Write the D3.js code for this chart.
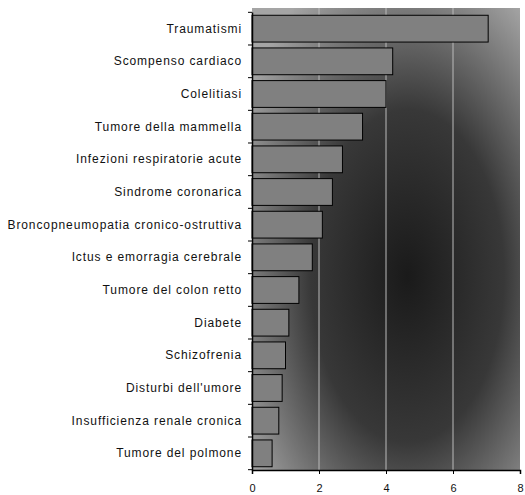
<!DOCTYPE html>
<html><head><meta charset="utf-8">
<script src="https://cdn.jsdelivr.net/npm/d3@7"></script>
<style>body{margin:0;background:#fff}</style>
</head><body>
<svg id="c" width="525" height="495"></svg>
<script>
const categories = ["Traumatismi","Scompenso cardiaco","Colelitiasi","Tumore della mammella","Infezioni respiratorie acute","Sindrome coronarica","Broncopneumopatia cronico-ostruttiva","Ictus e emorragia cerebrale","Tumore del colon retto","Diabete","Schizofrenia","Disturbi dell'umore","Insufficienza renale cronica","Tumore del polmone"];
const values = [7.05, 4.2, 4.0, 3.3, 2.7, 2.4, 2.1, 1.8, 1.4, 1.1, 1.0, 0.9, 0.8, 0.6];
const xTicks = [0, 2, 4, 6, 8];

const svg = d3.select("#c");
const m = {left: 252, top: 8, right: 5, bottom: 25};
const W = 525, H = 495;
const x = d3.scaleLinear().domain([0, 8]).range([m.left, W - m.right]);
const y = d3.scaleBand().domain(categories).range([m.top + 4, H - m.bottom]).paddingInner(0.18).paddingOuter(0.1);

const defs = svg.append("defs");
const g = defs.append("radialGradient").attr("id","bg").attr("cx","0.58").attr("cy","0.58").attr("r","0.72");
g.append("stop").attr("offset","0").attr("stop-color","#1a1a1a");
g.append("stop").attr("offset","0.5").attr("stop-color","#383838");
g.append("stop").attr("offset","1").attr("stop-color","#a5a5a5");

svg.append("rect").attr("x", x(0)).attr("y", m.top).attr("width", x(8) - x(0)).attr("height", H - m.bottom - m.top)
  .attr("fill", "url(#bg)");

svg.append("g").selectAll("line").data(xTicks.slice(1, -1)).join("line")
  .attr("x1", d => x(d)).attr("x2", d => x(d)).attr("y1", m.top).attr("y2", H - m.bottom)
  .attr("stroke", "#bbb").attr("stroke-width", 1);

svg.append("g").selectAll("rect").data(categories).join("rect")
  .attr("x", x(0)).attr("y", d => y(d)).attr("width", (d, i) => x(values[i]) - x(0)).attr("height", y.bandwidth())
  .attr("fill", "#808080").attr("stroke", "#000").attr("stroke-width", 1);

const yAxis = d3.axisLeft(y).tickSize(0).tickPadding(10);
svg.append("g").attr("transform", `translate(${x(0)},0)`).call(yAxis)
  .call(a => a.select(".domain").attr("stroke", "#000").attr("stroke-width", 1.5))
  .selectAll("text").attr("font-family", "Liberation Sans, Arial, sans-serif").attr("font-size", 12)
  .attr("letter-spacing", "0.9px").attr("fill", "#111");

// category boundary ticks
const step = y.step();
const bounds = categories.map(c => y(c) - (step - y.bandwidth()) / 2).concat([y(categories[categories.length - 1]) + y.bandwidth() + (step - y.bandwidth()) / 2]);
svg.append("g").selectAll("line").data(bounds).join("line")
  .attr("x1", x(0) - 4).attr("x2", x(0)).attr("y1", d => d).attr("y2", d => d)
  .attr("stroke", "#000").attr("stroke-width", 1);

const xAxis = d3.axisBottom(x).tickValues(xTicks).tickSize(4).tickPadding(10).tickFormat(d3.format("d"));
svg.append("g").attr("transform", `translate(0,${H - m.bottom})`).call(xAxis)
  .call(a => a.select(".domain").attr("stroke", "#000").attr("stroke-width", 1.5))
  .selectAll("text").attr("font-family", "Liberation Sans, Arial, sans-serif").attr("font-size", 11).attr("fill", "#111");
</script>
</body></html>
